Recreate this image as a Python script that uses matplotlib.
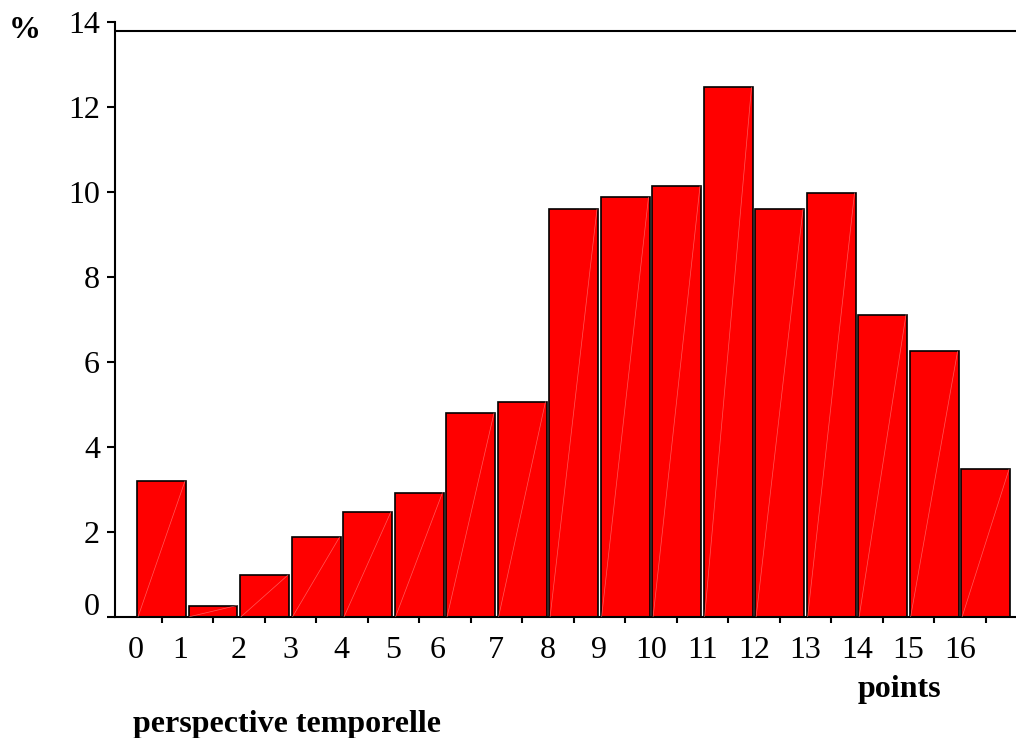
import numpy as np
import matplotlib
matplotlib.use("Agg")
import matplotlib.pyplot as plt
import matplotlib.transforms as mtransforms

# values (percent per score)
points = list(range(17))
pct = [3.19, 0.26, 0.98, 1.87, 2.47, 2.92, 4.79, 5.06, 9.59, 9.87,
       10.13, 12.46, 9.59, 9.97, 7.11, 6.24, 3.47]
x_labels = [str(p) for p in points]
y_ticks = [0, 2, 4, 6, 8, 10, 12, 14]
top_line = 13.78

plt.rcParams['font.family'] = ['Liberation Serif', 'DejaVu Serif']

fig = plt.figure(figsize=(10.16, 7.38), dpi=100)
ax = fig.add_axes([0.1132, 0.1644, 0.8868, 0.8062])

bars = ax.bar(points, pct, width=0.95, color='#ff0000',
              edgecolor='black', linewidth=1.2, zorder=2)

# faint diagonal inside each bar, like in the original export
for rect in bars:
    x0, w, h = rect.get_x(), rect.get_width(), rect.get_height()
    ax.plot([x0 + 0.02, x0 + w - 0.02], [0, h], color='#ff8080',
            lw=0.5, alpha=0.7, zorder=3)

ax.axhline(top_line, color='black', lw=1.5, zorder=1)

ax.set_xlim(-0.903, 16.59)
ax.set_ylim(0, 14)

ax.spines['top'].set_visible(False)
ax.spines['right'].set_visible(False)
ax.spines['left'].set_linewidth(1.5)
ax.spines['bottom'].set_linewidth(1.5)

# y axis
ax.set_yticks(y_ticks)
ax.set_yticklabels([str(v) for v in y_ticks])
ax.tick_params(axis='y', direction='out', length=5.8, width=1.5,
               pad=5, labelsize=23)
zero_lbl = ax.get_yticklabels()[0]
zero_lbl.set_transform(zero_lbl.get_transform() +
                       mtransforms.ScaledTranslation(0, 0.13, fig.dpi_scale_trans))

# x axis: ticks at bar centres, labels near the bar edges
ax.set_xticks(points)
ax.set_xticklabels([])
ax.tick_params(axis='x', which='major', direction='out', length=4.3, width=1.5)
label_pos = np.array(points, dtype=float) - 0.5
label_pos[1] -= 0.13
label_pos[6] -= 0.13
ax.set_xticks(label_pos, minor=True)
ax.set_xticklabels(x_labels, minor=True)
ax.tick_params(axis='x', which='minor', length=0, pad=13.9, labelsize=23)

fig.text(25 / 1016, 1 - 30 / 738, '%', fontsize=23, fontweight='bold',
         ha='center', va='center')
fig.text(133 / 1016, 1 - 732 / 738, 'perspective temporelle', fontsize=23,
         fontweight='bold', ha='left', va='baseline')
fig.text(858 / 1016, 1 - 697 / 738, 'points', fontsize=23,
         fontweight='bold', ha='left', va='baseline')

fig.savefig('out.png', dpi=100)
